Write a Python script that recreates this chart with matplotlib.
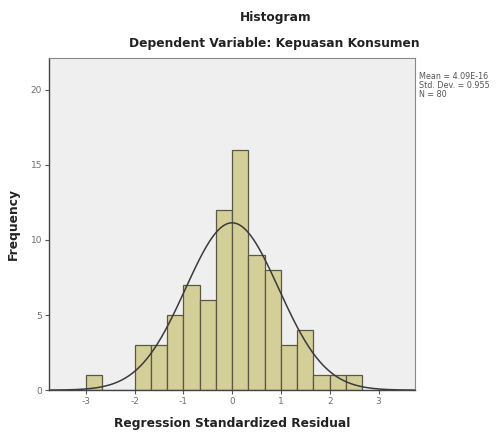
import numpy as np
import matplotlib.pyplot as plt

plt.rcParams['axes.unicode_minus'] = False

# histogram counts, bins of width 1/3 starting at -3
bin_start = -3.0
bin_width = 1 / 3
counts = [1, 0, 0, 3, 3, 5, 7, 6, 12, 16, 9, 8, 3, 4, 1, 1, 1]
mean = 4.09e-16
std_dev = 0.955
n = 80
x_ticks = [-3, -2, -1, 0, 1, 2, 3]
y_ticks = [0, 5, 10, 15, 20]

edges = bin_start + bin_width * np.arange(len(counts))

fig = plt.figure(figsize=(4.96, 4.34), dpi=100)
ax = fig.add_axes([0.099, 0.101, 0.738, 0.765])
ax.set_facecolor('#efefef')

ax.bar(edges, counts, width=bin_width, align='edge', color='#d4cf98',
       edgecolor='#5a5843', linewidth=0.9, zorder=2)

# fitted normal curve
xs = np.linspace(-3.75, 3.75, 400)
ys = n * bin_width * np.exp(-0.5 * ((xs - mean) / std_dev) ** 2) / (std_dev * np.sqrt(2 * np.pi))
ax.plot(xs, ys, color='#3a3a3a', linewidth=1.1, zorder=3)

ax.set_xlim(-3.75, 3.75)
ax.set_ylim(0, 22.1)
ax.set_xticks(x_ticks)
ax.set_yticks(y_ticks)
ax.tick_params(labelsize=6.5, labelcolor='#707070', length=3, color='#555555', pad=2)

for side in ['left', 'bottom']:
    ax.spines[side].set_color('#444444')
    ax.spines[side].set_linewidth(1.0)
for side in ['top', 'right']:
    ax.spines[side].set_color('#888888')
    ax.spines[side].set_linewidth(0.8)

ax.set_xlabel('Regression Standardized Residual', fontsize=8.8, fontweight='bold',
              color='#222222', labelpad=8)
ax.set_ylabel('Frequency', fontsize=8.8, fontweight='bold', color='#222222', labelpad=8)

fig.text(0.555, 0.96, 'Histogram', ha='center', va='center', fontsize=8.8,
         fontweight='bold', color='#222222')
fig.text(0.553, 0.899, 'Dependent Variable: Kepuasan Konsumen', ha='center', va='center',
         fontsize=8.8, fontweight='bold', color='#222222')

stats = 'Mean = 4.09E-16\nStd. Dev. = 0.955\nN = 80'
fig.text(0.845, 0.834, stats, ha='left', va='top', fontsize=5.8, color='#555555',
         linespacing=1.0)

fig.savefig('out.png', dpi=100)
